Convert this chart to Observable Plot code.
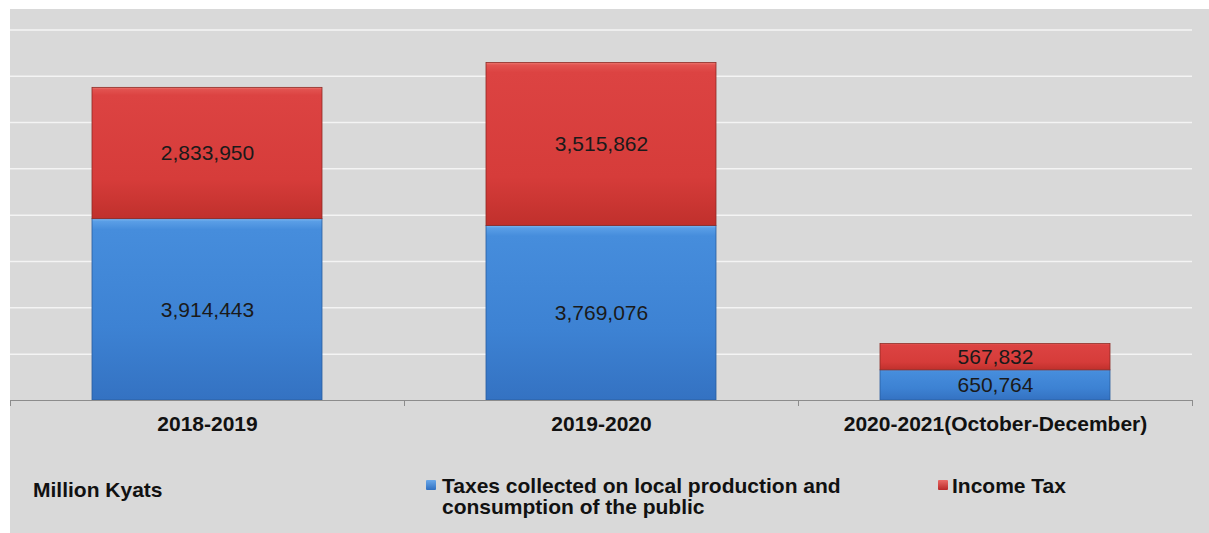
<!DOCTYPE html>
<html>
<head>
<meta charset="utf-8">
<script src="https://cdn.jsdelivr.net/npm/d3@7"></script>
<script src="https://cdn.jsdelivr.net/npm/@observablehq/plot@0.6"></script>
<style>
  html, body { margin: 0; padding: 0; background: #ffffff; }
  body { width: 1209px; height: 533px; position: relative; overflow: hidden;
         font-family: "Liberation Sans", Arial, sans-serif; }
  #panel { position: absolute; left: 10px; top: 9px; width: 1199px; height: 524px; background: #d9d9d9; }
  #chart { position: absolute; left: 0; top: 0; }
  .lbl { position: absolute; font-weight: bold; font-size: 21px; color: #111; line-height: 21px; white-space: nowrap; }
  .sw { position: absolute; width: 10px; height: 10px; border-radius: 1px; }
</style>
</head>
<body>
<div id="panel">
  <div id="chart"></div>
  <div class="lbl" style="left:23px; top:470px;">Million Kyats</div>
  <div class="sw" style="left:416px; top:471px; background:linear-gradient(#6aa8ea,#2f6fc0);"></div>
  <div class="lbl" style="left:432px; top:466px;">Taxes collected on local production and<br>consumption of the public</div>
  <div class="sw" style="left:928px; top:471px; background:linear-gradient(#ea6a66,#b82828);"></div>
  <div class="lbl" style="left:942px; top:466px;">Income Tax</div>
</div>
<script>
const years = ["2018-2019", "2019-2020", "2020-2021(October-December)"];
const seriesNames = ["Taxes collected on local production and consumption of the public", "Income Tax"];
const localTaxes = [3914443, 3769076, 650764];
const incomeTax = [2833950, 3515862, 567832];
const yTicks = [0, 1000000, 2000000, 3000000, 4000000, 5000000, 6000000, 7000000, 8000000];

const data = [];
years.forEach((yr, i) => {
  data.push({year: yr, series: seriesNames[0], value: localTaxes[i]});
  data.push({year: yr, series: seriesNames[1], value: incomeTax[i]});
});

const fillFor = d => d.series === seriesNames[0] ? "url(#gBlue)" : "url(#gRed)";
const strokeFor = d => d.series === seriesNames[0] ? "#2a5c9e" : "#8e2a24";

// small tick marks at band boundaries below the baseline
function boundaryTicks(index, scales, values, dims) {
  const g = d3.create("svg:g");
  const x = scales.x;
  const step = x.step();
  const y0 = scales.y(0);
  const start = x(years[0]) - (step - x.bandwidth()) / 2;
  for (let k = 0; k <= years.length; k++) {
    const xx = Math.round(start + k * step) + 0.5;
    g.append("line").attr("x1", xx).attr("x2", xx).attr("y1", y0).attr("y2", y0 + 6)
      .attr("stroke", "#8c8c8c").attr("stroke-width", 1);
  }
  return g.node();
}

const chart = Plot.plot({
  width: 1199,
  height: 431,
  marginLeft: 0,
  marginRight: 17,
  marginTop: 0,
  marginBottom: 40,
  style: { background: "transparent", fontFamily: "'Liberation Sans', Arial, sans-serif" },
  x: { domain: years, paddingInner: 0.416, paddingOuter: 0.208, label: null },
  y: { domain: [0, 8440000], axis: null },
  marks: [
    Plot.ruleY(yTicks.slice(1), { stroke: "#f4f4f4", strokeWidth: 1.5 }),
    Plot.barY(data, { x: "year", y: "value", fill: fillFor, stroke: strokeFor, strokeWidth: 0.8, inset: 0, order: null }),
    Plot.text(data, Plot.stackY({ x: "year", y: "value", text: d => d3.format(",")(d.value),
      fill: "#1a1a1a", fontSize: 21, order: null })),
    Plot.ruleY([0], { stroke: "#8c8c8c", strokeWidth: 1.2 }),
    boundaryTicks,
    Plot.axisX({ tickSize: 0, tickPadding: 16, fontSize: 21, fontWeight: "bold", fill: "#111", label: null })
  ]
});

const defs = d3.create("svg:defs");
const gb = defs.append("linearGradient").attr("id", "gBlue").attr("x1", 0).attr("y1", 0).attr("x2", 0).attr("y2", 1);
[["0%", "#7db8f0"], ["1.5%", "#5a9ee6"], ["6%", "#468ddc"], ["60%", "#3d82d3"], ["100%", "#3472c2"]]
  .forEach(([o, c]) => gb.append("stop").attr("offset", o).attr("stop-color", c));
const gr = defs.append("linearGradient").attr("id", "gRed").attr("x1", 0).attr("y1", 0).attr("x2", 0).attr("y2", 1);
[["0%", "#ee7a72"], ["1.5%", "#e25350"], ["6%", "#dc4342"], ["70%", "#d63c3a"], ["100%", "#c0302c"]]
  .forEach(([o, c]) => gr.append("stop").attr("offset", o).attr("stop-color", c));
chart.insertBefore(defs.node(), chart.firstChild);

document.getElementById("chart").appendChild(chart);
</script>
</body>
</html>
